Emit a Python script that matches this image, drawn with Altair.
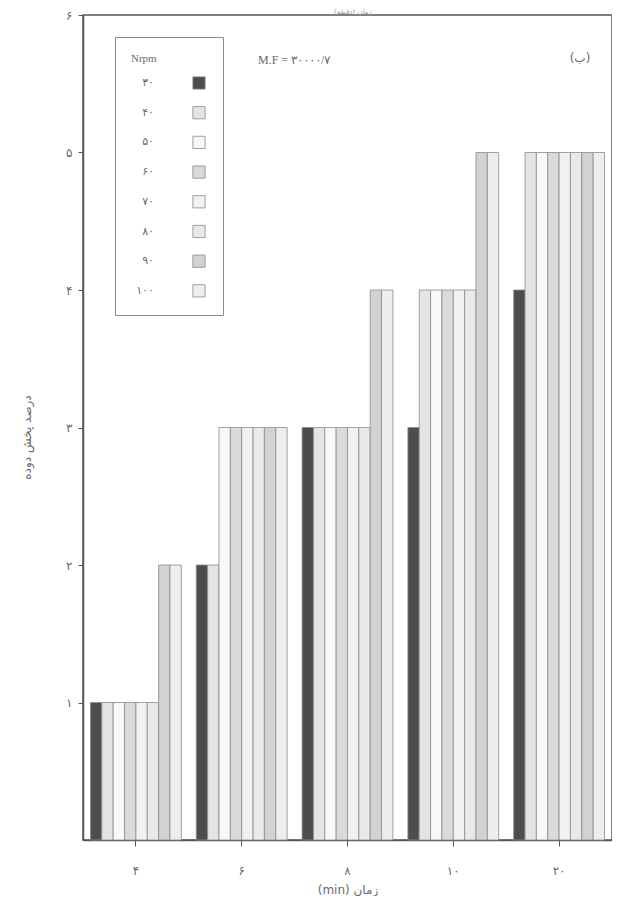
import altair as alt
import pandas as pd

# ---- data ----
groups = ["۴", "۶", "۸", "۱۰", "۲۰"]                       # time (min)
series = ["۳۰", "۴۰", "۵۰", "۶۰", "۷۰", "۸۰", "۹۰", "۱۰۰"]  # Nrpm
v_4 = [1, 1, 1, 1, 1, 1, 2, 2]
v_6 = [2, 2, 3, 3, 3, 3, 3, 3]
v_8 = [3, 3, 3, 3, 3, 3, 4, 4]
v_10 = [3, 4, 4, 4, 4, 4, 5, 5]
v_20 = [4, 5, 5, 5, 5, 5, 5, 5]
y_tick_values = [1, 2, 3, 4, 5, 6]
y_tick_labels = ["", "۱", "۲", "۳", "۴", "۵", "۶"]
series_colors = ["#4d4d4d", "#e4e4e4", "#f8f8f8", "#dadada",
                 "#f1f1f1", "#e9e9e9", "#d2d2d2", "#eeeeee"]

rows = []
for g, vals in zip(groups, [v_4, v_6, v_8, v_10, v_20]):
    for s, v in zip(series, vals):
        rows.append({"group": g, "series": s, "value": v})
df = pd.DataFrame(rows)

FONT = "DejaVu Sans"
TXT = "#6a6a6a"

label_expr = "[" + ",".join("'%s'" % t for t in y_tick_labels) + "][datum.value]"

bars = alt.Chart(df).mark_bar(stroke="#8a8a8a", strokeWidth=0.8).encode(
    x=alt.X("group:N", sort=groups,
            scale=alt.Scale(paddingInner=0.1415, paddingOuter=0.0708),
            axis=alt.Axis(title="(min) زمان", labelAngle=0, labelPadding=19,
                          tickSize=6, titlePadding=8, labelFontSize=12,
                          titleFontSize=12, titleFontWeight="normal")),
    xOffset=alt.XOffset("series:N", sort=series, scale=alt.Scale(paddingInner=0)),
    y=alt.Y("value:Q", scale=alt.Scale(domain=[0, 6], nice=False),
            axis=alt.Axis(title="درصد پخش دوده", values=y_tick_values,
                          labelExpr=label_expr, tickSize=5, labelPadding=6,
                          grid=False, titleX=-50, titleY=422,
                          labelFontSize=12, titleFontSize=12,
                          titleFontWeight="normal")),
    color=alt.Color("series:N", sort=series,
                    scale=alt.Scale(domain=series, range=series_colors),
                    legend=alt.Legend(title="Nrpm", orient="none",
                                      legendX=32, legendY=22,
                                      symbolType="square", symbolSize=150,
                                      symbolStrokeColor="#8a8a8a",
                                      symbolStrokeWidth=0.8,
                                      symbolOffset=61,
                                      labelAlign="right",
                                      labelOffset={"expr": "-52"},
                                      rowPadding=13.7, padding=16,
                                      titlePadding=12,
                                      strokeColor="#8a8a8a", fillColor="white",
                                      labelFontSize=11, titleFontSize=11,
                                      labelColor=TXT, titleColor=TXT,
                                      labelFont=FONT,
                                      titleFontWeight="normal",
                                      titleFont="Liberation Serif")),
)

ann = pd.DataFrame({"t": ["M.F = ۳۰۰۰۰/۷"]})
mf = alt.Chart(ann).mark_text(font="Liberation Serif", fontSize=12, color=TXT,
                              align="left").encode(
    text="t:N", x=alt.value(175), y=alt.value(45))
ann2 = pd.DataFrame({"t": ["(ب)"]})
lab_b = alt.Chart(ann2).mark_text(font=FONT, fontSize=12, color=TXT).encode(
    text="t:N", x=alt.value(497), y=alt.value(43))
ann3 = pd.DataFrame({"t": ["زمان (دقیقه)"]})
top_t = alt.Chart(ann3).mark_text(font=FONT, fontSize=7, color="#999999").encode(
    text="t:N", x=alt.value(270), y=alt.value(-3))

chart = alt.layer(bars, mf, lab_b, top_t).properties(
    width=529, height=825,
    autosize=alt.AutoSizeParams(type="none"),
    padding={"left": 75, "top": 7, "right": 0, "bottom": 56},
).configure_view(
    stroke="#555555", strokeWidth=1.5
).configure_axis(
    labelFont=FONT, titleFont=FONT, labelColor=TXT, titleColor=TXT,
    domainColor="#555555", tickColor="#555555", domainWidth=1.5
)

chart.save("out.html", embed_options={"renderer": "svg", "actions": False})
